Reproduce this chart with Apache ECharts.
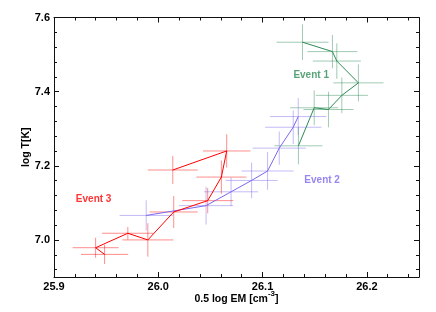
<!DOCTYPE html>
<html><head><meta charset="utf-8">
<script src="https://cdn.jsdelivr.net/npm/echarts@6/dist/echarts.min.js"></script>
<style>html,body{margin:0;padding:0;background:#fff}#c{width:436px;height:312px}</style>
</head><body><div id="c"></div>
<script>
// Event 1 (green)
const event1X    = [26.1344, 26.1495, 26.1632, 26.1760, 26.1919, 26.1712, 26.1670, 26.1383];
const event1Y    = [7.2539, 7.3565, 7.3518, 7.3900, 7.4237, 7.4825, 7.5080, 7.5333];
const event1XErr = [0.023, 0.023, 0.024, 0.025, 0.024, 0.023, 0.024, 0.025];
const event1YErr = [0.050, 0.047, 0.048, 0.048, 0.050, 0.048, 0.045, 0.048];
// Event 2 (blue)
const event2X    = [25.9884, 26.0458, 26.0698, 26.0895, 26.1048, 26.1160, 26.1294, 26.1342];
const event2Y    = [7.0661, 7.0925, 7.1298, 7.1605, 7.1859, 7.2476, 7.3040, 7.3328];
const event2XErr = [0.0255, 0.026, 0.026, 0.025, 0.025, 0.0255, 0.027, 0.027];
const event2YErr = [0.041, 0.051, 0.0385, 0.048, 0.051, 0.045, 0.045, 0.050];
// Event 3 (red)
const event3X    = [26.0139, 26.0656, 26.0605, 26.0474, 26.0148, 25.9900, 25.9708, 25.9399, 25.9485];
const event3Y    = [7.1886, 7.2400, 7.1695, 7.1060, 7.0754, 7.0000, 7.0180, 6.9790, 6.9610];
const event3XErr = [0.024, 0.0228, 0.024, 0.0245, 0.023, 0.0244, 0.0247, 0.022, 0.0226];
const event3YErr = [0.038, 0.045, 0.045, 0.034, 0.043, 0.045, 0.017, 0.027, 0.026];

const eventNames = ['Event 1', 'Event 2', 'Event 3'];
const eventLabelX = [26.1466, 26.1571, 25.9380];
const eventLabelY = [7.4435, 7.1605, 7.1088];

const xMajorTicks = [25.9, 26.0, 26.1, 26.2];
const xMinorTicks = [25.92, 25.94, 25.96, 25.98, 26.02, 26.04, 26.06, 26.08, 26.12, 26.14, 26.16, 26.18, 26.22, 26.24];
const yMajorTicks = [7.0, 7.2, 7.4, 7.6];
const yMinorTicks = [6.92, 6.96, 7.04, 7.08, 7.12, 7.16, 7.24, 7.28, 7.32, 7.36, 7.44, 7.48, 7.52, 7.56];

const colors = ['#2e8b57', '#7b68ee', '#ff0000'];
const FONT = '"Liberation Sans", Arial, sans-serif';
const AX = '#111';

function zip(xs, ys) { return xs.map((x, i) => [x, ys[i]]); }
function zipErr(xs, ys, xe, ye) { return xs.map((x, i) => [x, ys[i], xe[i], ye[i]]); }

function xAxisDef(pos, ticks, len, showLabel, showLine) {
  return {
    type: 'value', position: pos, min: 25.9, max: 26.25,
    axisLine: { show: showLine, onZero: false, lineStyle: { color: AX, width: 1 } },
    axisTick: { show: true, inside: true, length: len, customValues: ticks, lineStyle: { color: AX, width: 1 } },
    axisLabel: showLabel ? {
      show: true, customValues: ticks, margin: 4,
      formatter: v => v.toFixed(1),
      fontFamily: FONT, fontWeight: 'bold', fontSize: 11, color: '#000'
    } : { show: false },
    splitLine: { show: false }
  };
}
function yAxisDef(pos, ticks, len, showLabel, showLine) {
  return {
    type: 'value', position: pos, min: 6.9, max: 7.6,
    axisLine: { show: showLine, onZero: false, lineStyle: { color: AX, width: 1 } },
    axisTick: { show: true, inside: true, length: len, customValues: ticks, lineStyle: { color: AX, width: 1 } },
    axisLabel: showLabel ? {
      show: true, customValues: ticks, margin: 4,
      formatter: v => v.toFixed(1),
      fontFamily: FONT, fontWeight: 'bold', fontSize: 11, color: '#000'
    } : { show: false },
    splitLine: { show: false }
  };
}

const xAxes = [
  xAxisDef('bottom', xMajorTicks, 5, true, true),
  xAxisDef('bottom', xMinorTicks, 3, false, false),
  xAxisDef('top', xMajorTicks, 5, false, true),
  xAxisDef('top', xMinorTicks, 3, false, false)
];
xAxes[0].name = '{a|0.5 log EM [cm}{s|-3}{a|]}';
xAxes[0].nameLocation = 'middle';
xAxes[0].nameGap = 13;
xAxes[0].nameMoveOverlap = false;
xAxes[0].nameTextStyle = {
  rich: {
    a: { fontFamily: FONT, fontWeight: 'bold', fontSize: 10.5, color: '#000' },
    s: { fontFamily: FONT, fontWeight: 'bold', fontSize: 8, color: '#000', padding: [0, 0, 10, 0] }
  }
};
const yAxes = [
  yAxisDef('left', yMajorTicks, 5, true, true),
  yAxisDef('left', yMinorTicks, 3, false, false),
  yAxisDef('right', yMajorTicks, 5, false, true),
  yAxisDef('right', yMinorTicks, 3, false, false)
];
yAxes[0].name = 'log T[K]';
yAxes[0].nameLocation = 'middle';
yAxes[0].nameGap = 22;
yAxes[0].nameMoveOverlap = false;
yAxes[0].nameTextStyle = { fontFamily: FONT, fontWeight: 'bold', fontSize: 10.5, color: '#000' };

function errSeries(data, color) {
  return {
    type: 'custom', xAxisIndex: 0, yAxisIndex: 0, z: 2, silent: true,
    data: data,
    renderItem: function (params, api) {
      const x = api.value(0), y = api.value(1), xe = api.value(2), ye = api.value(3);
      const a = api.coord([x - xe, y]), b = api.coord([x + xe, y]);
      const c = api.coord([x, y - ye]), d = api.coord([x, y + ye]);
      const st = { stroke: color, lineWidth: 1, opacity: 0.45 };
      return {
        type: 'group', children: [
          { type: 'line', shape: { x1: a[0], y1: a[1], x2: b[0], y2: b[1] }, style: st },
          { type: 'line', shape: { x1: c[0], y1: c[1], x2: d[0], y2: d[1] }, style: st }
        ]
      };
    }
  };
}
function lineSeries(data, color) {
  return {
    type: 'line', xAxisIndex: 0, yAxisIndex: 0, z: 3, silent: true,
    data: data, showSymbol: false, symbol: 'none', animation: false,
    lineStyle: { color: color, width: 1 }
  };
}

const allX = [event1X, event2X, event3X], allY = [event1Y, event2Y, event3Y];
const allXE = [event1XErr, event2XErr, event3XErr], allYE = [event1YErr, event2YErr, event3YErr];
const series = [];
for (let i = 0; i < 3; i++) series.push(errSeries(zipErr(allX[i], allY[i], allXE[i], allYE[i]), colors[i]));
for (let i = 0; i < 3; i++) series.push(lineSeries(zip(allX[i], allY[i]), colors[i]));
for (let i = 0; i < 3; i++) {
  series.push({
    type: 'scatter', xAxisIndex: 0, yAxisIndex: 0, z: 4, silent: true, symbolSize: 0,
    data: [[eventLabelX[i], eventLabelY[i], eventNames[i]]],
    label: {
      show: true, position: 'inside', formatter: p => p.value[2],
      fontFamily: FONT, fontWeight: 'bold', fontSize: 10, color: colors[i]
    }
  });
}

const chart = echarts.init(document.getElementById('c'), null, { renderer: 'canvas' });
chart.setOption({
  animation: false,
  backgroundColor: '#fff',
  grid: { left: 54, right: 17, top: 17.5, bottom: 35, containLabel: false, outerBoundsMode: 'none' },
  xAxis: xAxes,
  yAxis: yAxes,
  series: series
});
</script></body></html>
